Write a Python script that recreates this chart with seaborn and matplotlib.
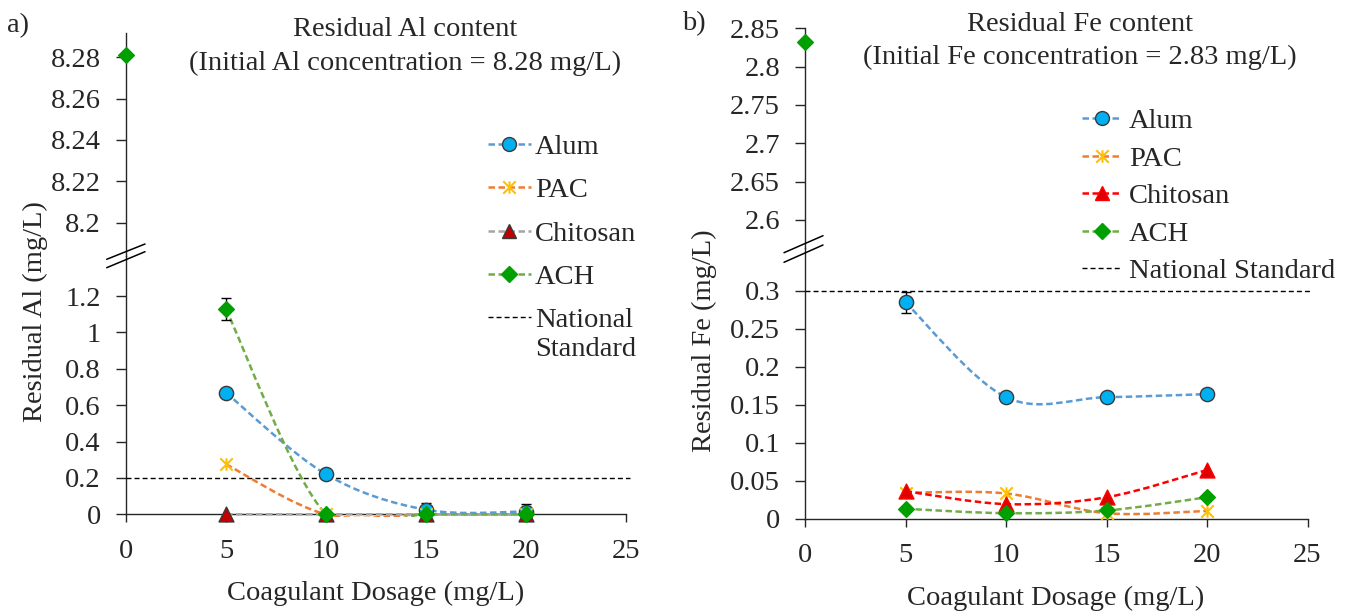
"""
Residual Al and Fe after coagulation, broken y-axes (two panels).
"""

import numpy as np
import matplotlib
matplotlib.use("Agg")
import matplotlib.pyplot as plt
import seaborn as sns
from matplotlib.path import Path
from matplotlib.patches import PathPatch, Rectangle
from matplotlib.lines import Line2D
from matplotlib.ticker import FuncFormatter

# ---- data ----
dosage = [5, 10, 15, 20]
coagulants = ["Alum", "PAC", "Chitosan", "ACH"]

al_alum = [0.668, 0.22, 0.025, 0.015]
al_pac = [0.275, 0.0, 0.0, 0.0]
al_chitosan = [0.0, 0.0, 0.0, 0.0]
al_ach = [1.127, 0.0, 0.0, 0.0]
al_alum_err = [0.02, 0.02, 0.035, 0.04]
al_ach_err = [0.06, 0.0, 0.0, 0.0]
al_initial = 8.281
al_standard = 0.2

fe_alum = [0.285, 0.160, 0.160, 0.164]
fe_pac = [0.034, 0.033, 0.007, 0.010]
fe_chitosan = [0.036, 0.019, 0.028, 0.064]
fe_ach = [0.0128, 0.007, 0.0106, 0.028]
fe_alum_err = [0.014, 0.004, 0.004, 0.004]
fe_initial = 2.832
fe_standard = 0.3

x_ticks = [0, 5, 10, 15, 20, 25]
al_top_ticks = [8.2, 8.22, 8.24, 8.26, 8.28]
al_bot_ticks = [0, 0.2, 0.4, 0.6, 0.8, 1.0, 1.2]
fe_top_ticks = [2.6, 2.65, 2.7, 2.75, 2.8, 2.85]
fe_bot_ticks = [0, 0.05, 0.1, 0.15, 0.2, 0.25, 0.3]

W, H = 1347, 612
FS = 20.5

sns.set_style("ticks")
plt.rcParams["font.family"] = ["Liberation Serif", "DejaVu Serif"]

# Excel-like star marker (X plus vertical bar)
star = Path([(-1, -1), (1, 1), (-1, 1), (1, -1), (0, -1), (0, 1)],
            [Path.MOVETO, Path.LINETO, Path.MOVETO, Path.LINETO,
             Path.MOVETO, Path.LINETO])

LINE_DASH = (0, (2.6, 1.4))
STD_DASH = (0, (3.6, 2.2))


def series_style(panel):
    chit_line = "#A5A5A5" if panel == "al" else "#FF0000"
    chit_fill = "#C00000" if panel == "al" else "#E00000"
    chit_edge = "#3A3A3A" if panel == "al" else "#FF0000"
    return {
        "Alum": dict(line="#5B9BD5", marker="o", s=105, face="#00B0F0",
                     edge="#3A3A3A", ms=10),
        "PAC": dict(line="#ED7D31", marker=star, s=80, face="#FFC000",
                    edge="#FFC000", ms=9),
        "Chitosan": dict(line=chit_line, marker="^", s=115, face=chit_fill,
                         edge=chit_edge, ms=10.5),
        "ACH": dict(line="#70AD47", marker="D", s=64, face="#00A000",
                    edge="#00A000", ms=7.8),
    }


def smooth_path(xs, ys):
    """Excel style smoothed line: cubic Bezier through the points."""
    pts = np.column_stack([xs, ys]).astype(float)
    n = len(pts)
    verts = [pts[0]]
    codes = [Path.MOVETO]
    for i in range(n - 1):
        p_prev = pts[max(i - 1, 0)]
        p_next = pts[min(i + 2, n - 1)]
        verts += [pts[i] + (pts[i + 1] - p_prev) / 6,
                  pts[i + 1] - (p_next - pts[i]) / 6,
                  pts[i + 1]]
        codes += [Path.CURVE4] * 3
    return Path(verts, codes)


def draw_series(ax, values, errors, style):
    patch = PathPatch(smooth_path(dosage, values), facecolor="none",
                      edgecolor=style["line"], lw=1.8, linestyle=LINE_DASH,
                      zorder=3)
    ax.add_patch(patch)
    clip = Rectangle((0, -0.012), 1.1, 1.012, transform=ax.transAxes,
                     facecolor="none", edgecolor="none")
    patch.set_clip_path(clip)
    if errors is not None:
        ax.errorbar(dosage, values, yerr=errors, fmt="none", ecolor="black",
                    elinewidth=1.0, capsize=3.8, capthick=1.0, zorder=4,
                    clip_on=False)
    lw = 1.5 if style["marker"] is star else 1.0
    sns.scatterplot(x=dosage, y=values, ax=ax, marker=style["marker"],
                    s=style["s"], color=style["face"],
                    edgecolor=style["edge"], linewidth=lw, zorder=5,
                    clip_on=False, legend=False)


def style_axes(ax_top, ax_bot, top_ticks, bot_ticks, top_lim, bot_lim):
    fmt = FuncFormatter(lambda v, p: f"{v:g}")
    for ax in (ax_top, ax_bot):
        ax.set_xlim(0, 25)
        ax.set_facecolor("none")
        for side in ("top", "right"):
            ax.spines[side].set_visible(False)
        ax.spines["left"].set_linewidth(1.0)
        ax.spines["bottom"].set_linewidth(1.0)
        ax.spines["left"].set_zorder(1)
        ax.spines["bottom"].set_zorder(1)
        ax.yaxis.set_major_formatter(fmt)
        ax.tick_params(axis="y", direction="out", length=7, width=1.0,
                       labelsize=FS, pad=11)
        ax.tick_params(axis="x", direction="out", length=6, width=1.0,
                       labelsize=FS, pad=12)
        ax.set_xlabel("")
        ax.set_ylabel("")
    ax_top.spines["bottom"].set_visible(False)
    ax_top.set_xticks([])
    ax_top.set_yticks(top_ticks)
    ax_top.set_ylim(*top_lim)
    ax_bot.set_xticks(x_ticks)
    ax_bot.xaxis.set_major_formatter(fmt)
    ax_bot.set_yticks(bot_ticks)
    ax_bot.set_ylim(*bot_lim)


def break_marks(fig, lines):
    for (x0, y0), (x1, y1) in lines:
        fig.add_artist(Line2D([x0 / W, x1 / W], [1 - y0 / H, 1 - y1 / H],
                              color="black", lw=1.1,
                              transform=fig.transFigure))


def legend_handles(styles):
    handles = []
    for name in coagulants:
        st = styles[name]
        handles.append(Line2D([], [], color=st["line"], lw=1.8,
                              linestyle=LINE_DASH, marker=st["marker"],
                              markersize=st["ms"],
                              markerfacecolor=st["face"],
                              markeredgecolor=st["edge"],
                              markeredgewidth=1.5 if st["marker"] is star else 1.0))
    handles.append(Line2D([], [], color="black", lw=1.0, linestyle=STD_DASH))
    return handles


def main():
    fig = plt.figure(figsize=(W / 100, H / 100), dpi=100)

    ax_al_top = fig.add_axes([126 / W, 1 - 256 / H, 500 / W, (256 - 33.3) / H])
    ax_al_bot = fig.add_axes([126 / W, 1 - 514.3 / H, 500 / W, (514.3 - 256) / H])
    ax_fe_top = fig.add_axes([805 / W, 1 - 248 / H, 502.5 / W, (248 - 28.3) / H])
    ax_fe_bot = fig.add_axes([805 / W, 1 - 518.5 / H, 502.5 / W, (518.5 - 248) / H])

    # ---- panel a: aluminium ----
    al_styles = series_style("al")
    al_values = {"Alum": al_alum, "PAC": al_pac, "Chitosan": al_chitosan,
                 "ACH": al_ach}
    al_errors = {"Alum": al_alum_err, "ACH": al_ach_err}
    for name in coagulants:
        draw_series(ax_al_bot, al_values[name], al_errors.get(name),
                    al_styles[name])
    ax_al_bot.plot([0, 25.2], [al_standard, al_standard], color="black",
                   lw=1.0, linestyle=STD_DASH, zorder=2, clip_on=False)
    st = al_styles["ACH"]
    sns.scatterplot(x=[0], y=[al_initial], ax=ax_al_top, marker=st["marker"],
                    s=st["s"], color=st["face"], edgecolor=st["edge"],
                    linewidth=1.0, zorder=5, clip_on=False, legend=False)
    style_axes(ax_al_top, ax_al_bot, al_top_ticks, al_bot_ticks,
               (8.1839, 8.2916), (0, 1.42))

    # ---- panel b: iron ----
    fe_styles = series_style("fe")
    fe_values = {"Alum": fe_alum, "PAC": fe_pac, "Chitosan": fe_chitosan,
                 "ACH": fe_ach}
    fe_errors = {"Alum": fe_alum_err}
    for name in coagulants:
        draw_series(ax_fe_bot, fe_values[name], fe_errors.get(name),
                    fe_styles[name])
    ax_fe_bot.plot([0, 25.1], [fe_standard, fe_standard], color="black",
                   lw=1.0, linestyle=STD_DASH, zorder=2, clip_on=False)
    st = fe_styles["ACH"]
    sns.scatterplot(x=[0], y=[fe_initial], ax=ax_fe_top, marker=st["marker"],
                    s=st["s"], color=st["face"], edgecolor=st["edge"],
                    linewidth=1.0, zorder=5, clip_on=False, legend=False)
    style_axes(ax_fe_top, ax_fe_bot, fe_top_ticks, fe_bot_ticks,
               (2.5634, 2.85), (0, 0.3567))

    # break marks across the y-axes
    break_marks(fig, [((106.7, 259.3), (145, 244)),
                      ((106.7, 267.7), (145, 251.7)),
                      ((784, 252.7), (823, 235.7)),
                      ((784, 262.3), (823, 245))])

    # legends
    leg_a = fig.legend(legend_handles(al_styles),
                       coagulants + ["National"],
                       loc="upper left", bbox_to_anchor=(488 / W, 1 - 134 / H),
                       frameon=False, fontsize=FS, borderpad=0,
                       borderaxespad=0, handlelength=1.5, handletextpad=0.15,
                       labelspacing=0.61)
    fig.legend(legend_handles(fe_styles), coagulants + ["National Standard"],
               loc="upper left", bbox_to_anchor=(1082 / W, 1 - 108 / H),
               frameon=False, fontsize=FS, borderpad=0, borderaxespad=0,
               handlelength=1.4, handletextpad=0.25, labelspacing=0.41)

    # second line of the left "National Standard" entry, under "National"
    fig.canvas.draw()
    nat_box = leg_a.get_texts()[-1].get_window_extent()
    fig.text(nat_box.x0 / W, 1 - 350 / H, "Standard", ha="left",
             va="center", fontsize=FS)

    # titles and labels
    fig.text(405 / W, 1 - 36 / H, "Residual Al content", ha="center",
             va="baseline", fontsize=FS)
    fig.text(405 / W, 1 - 70 / H, "(Initial Al concentration = 8.28 mg/L)",
             ha="center", va="baseline", fontsize=FS)
    fig.text(1080 / W, 1 - 31 / H, "Residual Fe content", ha="center",
             va="baseline", fontsize=FS)
    fig.text(1080 / W, 1 - 64 / H, "(Initial Fe concentration = 2.83 mg/L)",
             ha="center", va="baseline", fontsize=FS)
    fig.text(7 / W, 1 - 32 / H, "a)", ha="left", va="baseline", fontsize=FS)
    fig.text(682 / W, 1 - 30 / H, "b)", ha="left", va="baseline", fontsize=FS)

    fig.text(376 / W, 1 - 600 / H, "Coagulant Dosage (mg/L)", ha="center",
             va="baseline", fontsize=FS)
    fig.text(1056 / W, 1 - 605 / H, "Coagulant Dosage (mg/L)", ha="center",
             va="baseline", fontsize=FS)
    fig.text(35 / W, 1 - 312 / H, "Residual Al (mg/L)", ha="center",
             va="center", rotation=90, fontsize=FS)
    fig.text(704 / W, 1 - 341 / H, "Residual Fe (mg/L)", ha="center",
             va="center", rotation=90, fontsize=FS)

    fig.savefig("out.png", dpi=100, facecolor="white")


if __name__ == "__main__":
    main()
